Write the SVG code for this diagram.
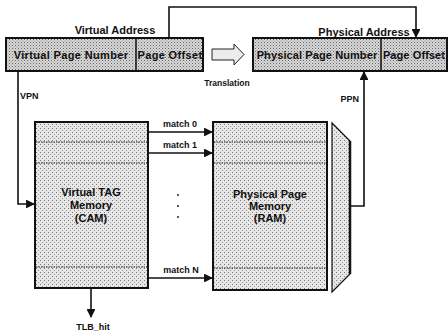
<svg xmlns="http://www.w3.org/2000/svg" width="448" height="335" viewBox="0 0 448 335">
<style>
text{font-family:"Liberation Sans",Arial,sans-serif;font-weight:bold;fill:#111}
.big{font-size:11px;letter-spacing:0.35px}
.pa{font-size:11px;letter-spacing:0.1px}
.mid{font-size:11px}
.sm{font-size:9px}
.addr{fill:url(#dark);stroke:#111;stroke-width:2}
.mem{fill:url(#light);stroke:#111;stroke-width:2}
.dash{stroke:#222;stroke-width:1.2;stroke-dasharray:1.5 1;fill:none}
.wire{stroke:#111;stroke-width:1.6;fill:none}
</style>
<defs>
<pattern id="dark" width="3" height="3" patternUnits="userSpaceOnUse">
<rect width="3" height="3" fill="#d8d8d8"/>
<rect width="1" height="1" fill="#666"/>
<rect x="1.5" y="1.5" width="1" height="1" fill="#888"/>
</pattern>
<pattern id="light" width="4" height="4" patternUnits="userSpaceOnUse">
<rect width="4" height="4" fill="#e6e6e6"/>
<rect width="1" height="1" fill="#777"/>
<rect x="2" y="2" width="1" height="1" fill="#999"/>
</pattern>
<marker id="ah" viewBox="0 0 10 10" refX="9" refY="5" markerWidth="5.5" markerHeight="5.5" orient="auto-start-reverse" markerUnits="strokeWidth">
<path d="M0,0 L10,5 L0,10 z" fill="#111"/>
</marker>
</defs>

<g id="virtual-address">
<text class="mid" x="115" y="34" text-anchor="middle">Virtual Address</text>
<rect class="addr" x="6" y="38" width="197" height="33"/>
<line x1="136" y1="38" x2="136" y2="71" stroke="#111" stroke-width="1.5"/>
<text class="big" x="71" y="58.5" text-anchor="middle">Virtual Page Number</text>
<text class="big" x="170" y="58.5" text-anchor="middle">Page Offset</text>
</g>

<g id="translation">
<path d="M212,49 L234,49 L234,44 L244,54.5 L234,65 L234,60 L212,60 z" fill="#ececec" stroke="#222" stroke-width="1"/>
<text class="sm" x="227" y="86" text-anchor="middle" style="font-size:8.5px">Translation</text>
</g>

<g id="physical-address">
<text class="mid" x="364" y="36" text-anchor="middle">Physical Address</text>
<rect class="addr" x="253" y="38" width="194" height="33"/>
<line x1="381" y1="38" x2="381" y2="71" stroke="#111" stroke-width="1.5"/>
<text class="pa" x="317" y="58.5" text-anchor="middle">Physical Page Number</text>
<text class="pa" x="414" y="58.5" text-anchor="middle">Page Offset</text>
</g>

<g id="cam">
<rect class="mem" x="35" y="122" width="113" height="166"/>
<line class="dash" x1="36" y1="142" x2="147" y2="142"/>
<line class="dash" x1="36" y1="163" x2="147" y2="163"/>
<line class="dash" x1="36" y1="267" x2="147" y2="267"/>
<text class="mid" x="91" y="196" text-anchor="middle">Virtual TAG</text>
<text class="mid" x="91" y="209" text-anchor="middle">Memory</text>
<text class="mid" x="91" y="222" text-anchor="middle">(CAM)</text>
</g>

<g id="ram">
<rect class="mem" x="213" y="122" width="114" height="168"/>
<line class="dash" x1="214" y1="142" x2="326" y2="142"/>
<line class="dash" x1="214" y1="163" x2="326" y2="163"/>
<line class="dash" x1="214" y1="268" x2="326" y2="268"/>
<text class="mid" x="270" y="198" text-anchor="middle">Physical Page</text>
<text class="mid" x="270" y="210" text-anchor="middle">Memory</text>
<text class="mid" x="270" y="222" text-anchor="middle">(RAM)</text>
</g>

<g id="mux">
<path d="M332,123 L350,141 L350,274 L332,292 z" fill="url(#light)" stroke="#111" stroke-width="1.2"/>
<line x1="350" y1="141" x2="350" y2="274" stroke="#111" stroke-width="2.5"/>
</g>

<g id="dots">
<circle cx="178" cy="195" r="0.9" fill="#111"/>
<circle cx="178" cy="206" r="0.9" fill="#111"/>
<circle cx="178" cy="217" r="0.9" fill="#111"/>
</g>

<g id="connectors">
<polyline class="wire" points="169,38 169,7 416,7 416,37" marker-end="url(#ah)"/>
<polyline class="wire" points="18,71 18,204 34,204" marker-end="url(#ah)"/>
<polyline class="wire" points="350,206 364,206 364,72" marker-end="url(#ah)"/>
<line class="wire" x1="148" y1="132" x2="212" y2="132" marker-end="url(#ah)"/>
<line class="wire" x1="148" y1="153" x2="212" y2="153" marker-end="url(#ah)"/>
<line class="wire" x1="148" y1="278" x2="212" y2="278" marker-end="url(#ah)"/>
<line class="wire" x1="91" y1="289" x2="91" y2="317" marker-end="url(#ah)"/>
</g>

<g id="labels">
<text class="sm" x="20" y="99">VPN</text>
<text class="sm" x="359" y="102" text-anchor="end">PPN</text>
<text class="sm" x="180" y="127" text-anchor="middle">match 0</text>
<text class="sm" x="180" y="148" text-anchor="middle">match 1</text>
<text class="sm" x="181" y="273" text-anchor="middle">match N</text>
<text class="sm" x="93" y="330" text-anchor="middle">TLB_hit</text>
</g>
</svg>
